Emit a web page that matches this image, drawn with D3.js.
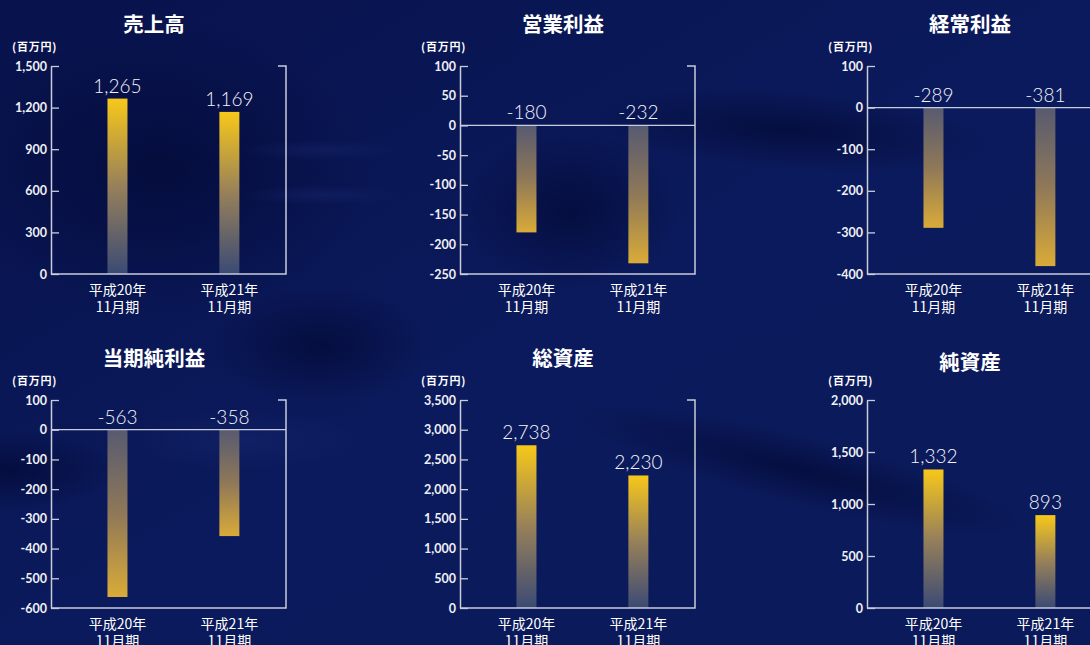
<!DOCTYPE html>
<html>
<head>
<meta charset="utf-8">
<script src="https://cdn.jsdelivr.net/npm/d3@7"></script>
<style>
  html, body { margin: 0; padding: 0; background: #0b1858; overflow: hidden; }
  svg { display: block; }
</style>
</head>
<body>
<script>
const W = 1090, H = 645;

// data
const titles = ["売上高", "営業利益", "経常利益", "当期純利益", "総資産", "純資産"];
const periodYears = ["平成20年", "平成21年"];
const periodSuffix = "11月期";
const unitLabel = "(百万円)";

const sales = [1265, 1169];
const operatingIncome = [-180, -232];
const ordinaryIncome = [-289, -381];
const netIncome = [-563, -358];
const totalAssets = [2738, 2230];
const netAssets = [1332, 893];

const salesTicks = [0, 300, 600, 900, 1200, 1500];
const operatingTicks = [100, 50, 0, -50, -100, -150, -200, -250];
const ordinaryTicks = [100, 0, -100, -200, -300, -400];
const netIncomeTicks = [100, 0, -100, -200, -300, -400, -500, -600];
const totalAssetsTicks = [0, 500, 1000, 1500, 2000, 2500, 3000, 3500];
const netAssetsTicks = [0, 500, 1000, 1500, 2000];

const seriesList = [sales, operatingIncome, ordinaryIncome, netIncome, totalAssets, netAssets];
const tickList = [salesTicks, operatingTicks, ordinaryTicks, netIncomeTicks, totalAssetsTicks, netAssetsTicks];

// layout
const colX = [51, 460, 867];
const rowY = [66, 400];
const plotW = 235, plotH = 208;
const axisColor = "#c9ccda";
const jpFont = "'Noto Sans CJK JP', 'Noto Sans', sans-serif";
const numFont = "Lato, 'Open Sans', sans-serif";

const svg = d3.select("body").append("svg").attr("width", W).attr("height", H);
const defs = svg.append("defs");

// background
const bg = defs.append("linearGradient").attr("id", "bg").attr("x1", 0).attr("y1", 0).attr("x2", 1).attr("y2", 1);
bg.append("stop").attr("offset", 0).attr("stop-color", "#08124c");
bg.append("stop").attr("offset", 0.5).attr("stop-color", "#0b1a5c");
bg.append("stop").attr("offset", 1).attr("stop-color", "#0b1a5a");
svg.append("rect").attr("width", W).attr("height", H).attr("fill", "url(#bg)");

const glowDark = defs.append("radialGradient").attr("id", "glowDark");
glowDark.append("stop").attr("offset", 0).attr("stop-color", "#030a36").attr("stop-opacity", 0.75);
glowDark.append("stop").attr("offset", 1).attr("stop-color", "#030a36").attr("stop-opacity", 0);
const glowLight = defs.append("radialGradient").attr("id", "glowLight");
glowLight.append("stop").attr("offset", 0).attr("stop-color", "#1a2a72").attr("stop-opacity", 0.4);
glowLight.append("stop").attr("offset", 1).attr("stop-color", "#1a2a72").attr("stop-opacity", 0);

const shade = svg.append("g");
const blob = (cx, cy, rx, ry, rot, fill) => shade.append("ellipse")
  .attr("cx", cx).attr("cy", cy).attr("rx", rx).attr("ry", ry)
  .attr("transform", `rotate(${rot} ${cx} ${cy})`).attr("fill", fill);
blob(160, 170, 220, 150, 0, "url(#glowDark)");
blob(790, 130, 200, 40, 4, "url(#glowDark)");
blob(800, 470, 230, 35, 14, "url(#glowDark)");
blob(320, 345, 110, 60, 0, "url(#glowDark)");
blob(10, 470, 110, 40, 0, "url(#glowDark)");
blob(570, 210, 110, 80, 0, "url(#glowDark)");
blob(320, 150, 80, 10, 0, "url(#glowLight)");
blob(320, 195, 80, 10, 0, "url(#glowLight)");
blob(240, 440, 120, 30, 0, "url(#glowLight)");

// bar gradients: from the zero line (muted) to the value end (gold)
const gPos = defs.append("linearGradient").attr("id", "gradPos").attr("x1", 0).attr("y1", 0).attr("x2", 0).attr("y2", 1);
gPos.append("stop").attr("offset", 0).attr("stop-color", "#f7c81a");
gPos.append("stop").attr("offset", 0.5).attr("stop-color", "#97805a");
gPos.append("stop").attr("offset", 1).attr("stop-color", "#3b4a74");
const gNeg = defs.append("linearGradient").attr("id", "gradNeg").attr("x1", 0).attr("y1", 0).attr("x2", 0).attr("y2", 1);
gNeg.append("stop").attr("offset", 0).attr("stop-color", "#575a70");
gNeg.append("stop").attr("offset", 0.5).attr("stop-color", "#8f7858");
gNeg.append("stop").attr("offset", 1).attr("stop-color", "#d9ab38");

const fmt = d => d3.format(",")(d).replace("−", "-");

seriesList.forEach((values, i) => {
  const ticks = tickList[i];
  const ox = colX[i % 3], oy = rowY[Math.floor(i / 3)];
  const g = svg.append("g").attr("transform", `translate(${ox},${oy})`);

  const y = d3.scaleLinear().domain([d3.min(ticks), d3.max(ticks)]).range([plotH, 0]);
  const x = d3.scalePoint().domain(periodYears).range([0, plotW]).padding(0.55).align(0.54);

  // title
  g.append("text").attr("x", 103).attr("y", i === 5 ? -30 : -34)
    .attr("text-anchor", "middle").attr("fill", "#ffffff")
    .attr("font-family", jpFont).attr("font-weight", 700).attr("font-size", 20.5)
    .text(titles[i]);

  // unit
  g.append("text").attr("x", -39).attr("y", -15)
    .attr("fill", "#ffffff").attr("letter-spacing", 0.8)
    .attr("font-family", jpFont).attr("font-weight", 700).attr("font-size", 11)
    .text(unitLabel);

  // bars
  g.selectAll("rect.bar").data(values).join("rect")
    .attr("class", "bar")
    .attr("x", (d, j) => x(periodYears[j]) - 10)
    .attr("width", 20)
    .attr("y", d => y(Math.max(0, d)))
    .attr("height", d => Math.abs(y(d) - y(0)))
    .attr("fill", d => d >= 0 ? "url(#gradPos)" : "url(#gradNeg)");

  // value labels
  g.selectAll("text.val").data(values).join("text")
    .attr("class", "val")
    .attr("x", (d, j) => x(periodYears[j]))
    .attr("y", d => Math.min(y(0), y(d)) - 6)
    .attr("text-anchor", "middle").attr("fill", "#f4f4f8")
    .attr("font-family", numFont).attr("font-weight", 300).attr("font-size", 19)
    .text(d => fmt(d));

  // zero line when negative values
  if (d3.min(ticks) < 0) {
    g.append("line").attr("x1", 0).attr("x2", plotW).attr("y1", y(0)).attr("y2", y(0))
      .attr("stroke", axisColor).attr("stroke-width", 1.2);
  }

  // frame: bottom + right bracket
  g.append("path")
    .attr("d", `M0,${plotH}H${plotW}V0H${plotW - 8}`)
    .attr("fill", "none").attr("stroke", axisColor).attr("stroke-width", 1.5);

  // y axis
  const ax = g.append("g").call(
    d3.axisLeft(y).tickValues(ticks).tickSize(-8).tickSizeOuter(0).tickPadding(4).tickFormat(fmt)
  );
  ax.select(".domain").attr("stroke", axisColor).attr("stroke-width", 1.5);
  ax.selectAll(".tick line").attr("stroke", axisColor).attr("stroke-width", 1.3);
  ax.selectAll(".tick text").attr("fill", "#eef0f6")
    .attr("font-family", numFont).attr("font-weight", 700).attr("font-size", 12.5);

  // category labels (two lines in one text)
  const cat = g.selectAll("text.cat").data(periodYears).join("text")
    .attr("class", "cat")
    .attr("transform", d => `translate(${x(d)},${plotH})`)
    .attr("text-anchor", "middle").attr("fill", "#ffffff")
    .attr("font-family", jpFont).attr("font-size", 14);
  cat.append("tspan").attr("x", 0).attr("y", 21).text(d => d);
  cat.append("tspan").attr("x", 0).attr("y", 38).text(periodSuffix);
});
</script>
</body>
</html>
